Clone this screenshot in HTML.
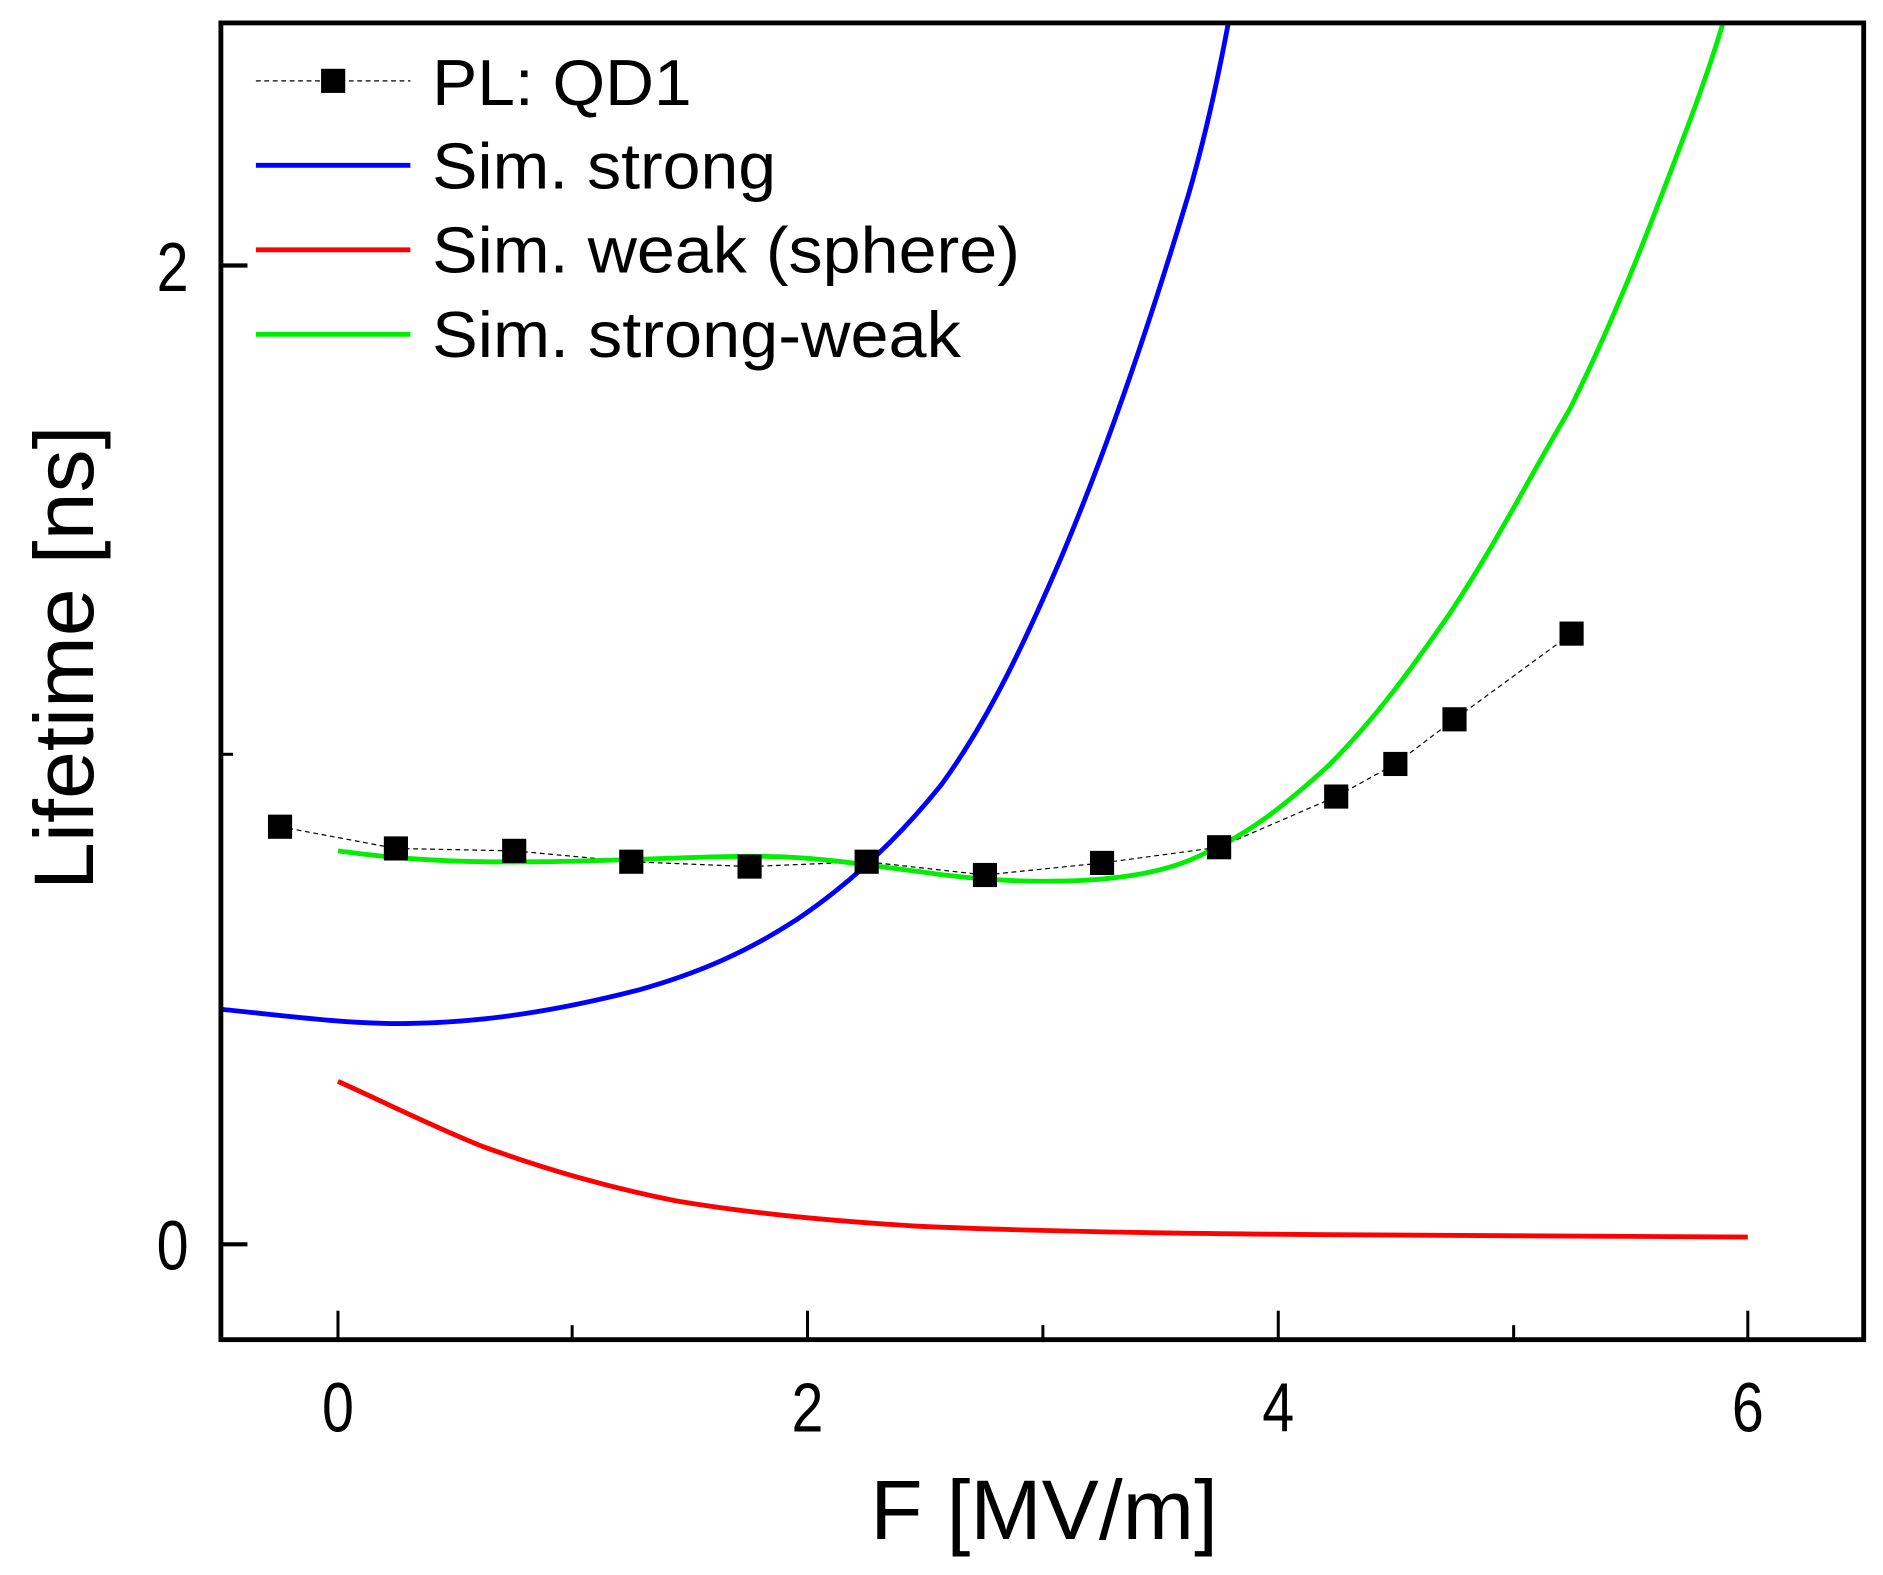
<!DOCTYPE html>
<html><head><meta charset="utf-8"><style>html,body{margin:0;padding:0;background:#fff}svg{display:block}</style></head>
<body>
<svg width="1883" height="1575" viewBox="0 0 1560 1305" preserveAspectRatio="none" xmlns="http://www.w3.org/2000/svg" font-family="Liberation Sans, Arial, sans-serif">
<defs><clipPath id="c"><rect x="181" y="17" width="1365" height="1095"/></clipPath></defs>
<g clip-path="url(#c)" fill="none" stroke-width="4">
<path stroke="#000" stroke-width="1" stroke-dasharray="4,3" d="M232,685 L328,703 L426,705 L523,714 L621,718 L718,714 L816,725 L913,715 L1010,702 L1107,660 L1156,633 L1205,596 L1302,525"/>
<path stroke="#0000ff" d="M181,836 C240,842 290,849 340,848 C400,847 460,838 530,820 C580,806 620,788 660,762 C700,735 740,700 780,650 C820,595 850,530 880,460 C920,365 955,260 985,160 C998,115 1010,60 1018,17"/>
<path stroke="#ff0000" d="M280,896 C320,914 360,934 400,950 C450,968 500,983 560,995 C620,1005 680,1011 760,1016 C850,1020 950,1022 1100,1023 C1250,1024 1350,1025 1448,1025"/>
<path stroke="#00ee00" d="M280,705 C330,712 380,715 450,714 C530,713 600,708 650,710 C690,712 720,717 760,722 C800,728 840,731 880,730 C930,729 970,722 1000,706 C1040,688 1070,662 1100,635 C1140,595 1170,553 1200,510 C1240,450 1270,390 1300,340 C1340,260 1370,180 1400,100 C1410,73 1420,45 1428,17"/>
</g>
<g fill="#000">
<rect x="222" y="675" width="20" height="20"/><rect x="318" y="693" width="20" height="20"/><rect x="416" y="695" width="20" height="20"/><rect x="513" y="704" width="20" height="20"/><rect x="611" y="708" width="20" height="20"/><rect x="708" y="704" width="20" height="20"/><rect x="806" y="715" width="20" height="20"/><rect x="903" y="705" width="20" height="20"/><rect x="1000" y="692" width="20" height="20"/><rect x="1097" y="650" width="20" height="20"/><rect x="1146" y="623" width="20" height="20"/><rect x="1195" y="586" width="20" height="20"/><rect x="1292" y="515" width="20" height="20"/>
</g>
<rect x="183" y="19" width="1361" height="1091" fill="none" stroke="#000" stroke-width="4"/>
<g stroke="#000" stroke-width="2.5">
<line x1="280" y1="1112" x2="280" y2="1086"/><line x1="669" y1="1112" x2="669" y2="1086"/><line x1="1059" y1="1112" x2="1059" y2="1086"/><line x1="1448" y1="1112" x2="1448" y2="1086"/>
<line x1="474" y1="1112" x2="474" y2="1098"/><line x1="864" y1="1112" x2="864" y2="1098"/><line x1="1254" y1="1112" x2="1254" y2="1098"/>
<line x1="181" y1="1031" x2="205" y2="1031" stroke-width="3.5"/><line x1="181" y1="220" x2="205" y2="220" stroke-width="3.5"/><line x1="181" y1="625" x2="193" y2="625"/>
</g>
<g font-size="58" text-anchor="middle" fill="#000">
<text transform="translate(280,1186) scale(0.82,1)">0</text><text transform="translate(669,1186) scale(0.82,1)">2</text><text transform="translate(1059,1186) scale(0.82,1)">4</text><text transform="translate(1448,1186) scale(0.82,1)">6</text>
<text transform="translate(143,1052) scale(0.82,1)">0</text><text transform="translate(143,241) scale(0.82,1)">2</text>
</g>
<text x="865" y="1275" font-size="70" text-anchor="middle" textLength="288" lengthAdjust="spacingAndGlyphs">F [MV/m]</text>
<text transform="translate(77,545) rotate(-90)" font-size="70" text-anchor="middle" textLength="385" lengthAdjust="spacingAndGlyphs">Lifetime [ns]</text>
<g stroke-width="4">
<line x1="212" y1="67" x2="340" y2="67" stroke="#000" stroke-width="1" stroke-dasharray="4,3"/>
<rect x="266" y="57" width="20" height="20" fill="#000"/>
<line x1="212" y1="137" x2="340" y2="137" stroke="#0000ff"/>
<line x1="212" y1="207" x2="340" y2="207" stroke="#ff0000"/>
<line x1="212" y1="277" x2="340" y2="277" stroke="#00ee00"/>
</g>
<g font-size="54" fill="#000">
<text x="358" y="87" textLength="215" lengthAdjust="spacingAndGlyphs">PL: QD1</text>
<text x="358" y="156" textLength="285" lengthAdjust="spacingAndGlyphs">Sim. strong</text>
<text x="358" y="226" textLength="487" lengthAdjust="spacingAndGlyphs">Sim. weak (sphere)</text>
<text x="358" y="296" textLength="438" lengthAdjust="spacingAndGlyphs">Sim. strong-weak</text>
</g>
</svg>
</body></html>
